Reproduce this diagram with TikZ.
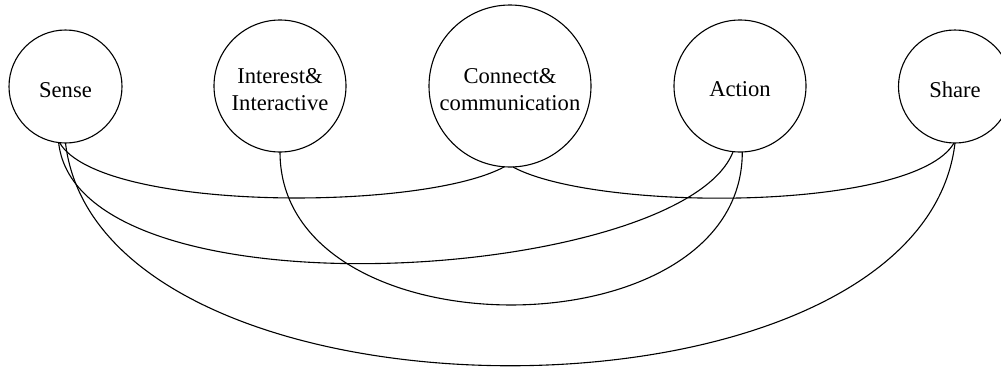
\documentclass[tikz,border=0pt]{standalone}
\usepackage{fontspec}
\setmainfont{Liberation Serif}
\begin{document}
\begin{tikzpicture}[x=1pt,y=-1pt,
  bubble/.style={draw,circle,line width=1.1pt,inner sep=0pt,outer sep=0pt},
  txt/.style={align=center,inner sep=0pt,yshift=-3.5pt,
    font=\fontsize{22.6}{27.5}\selectfont},
  link/.style={line width=1.1pt}]
\clip (0,0) rectangle (1001,367);
\node[bubble,minimum size=113pt,label={[txt]center:Sense}] (sense) at (65.5,86.5) {};
\node[bubble,minimum size=132pt,label={[txt]center:{Interest\&\\Interactive}}] (interest) at (280,86) {};
\node[bubble,minimum size=162pt,label={[txt]center:{Connect\&\\communication}}] (connect) at (510,86) {};
\node[bubble,minimum size=132pt,label={[txt]center:Action}] (action) at (740,86) {};
\node[bubble,minimum size=113pt,label={[txt]center:Share}] (share) at (955,86.5) {};
\draw[link] (sense.-96) .. controls +(40,69) and +(-83,45) .. (connect.-94);
\draw[link] (connect.-88) .. controls +(83,45) and +(-40,69) .. (share.-91);
\draw[link] (sense.-97) .. controls +(20,180) and +(-50,130) .. (action.-96);
\draw[link] (interest.south) .. controls +(0,204) and +(0,204) .. (action.-88);
\draw[link] (sense.-90) .. controls +(35,297) and +(-35,297) .. (share.south);
\end{tikzpicture}
\end{document}
